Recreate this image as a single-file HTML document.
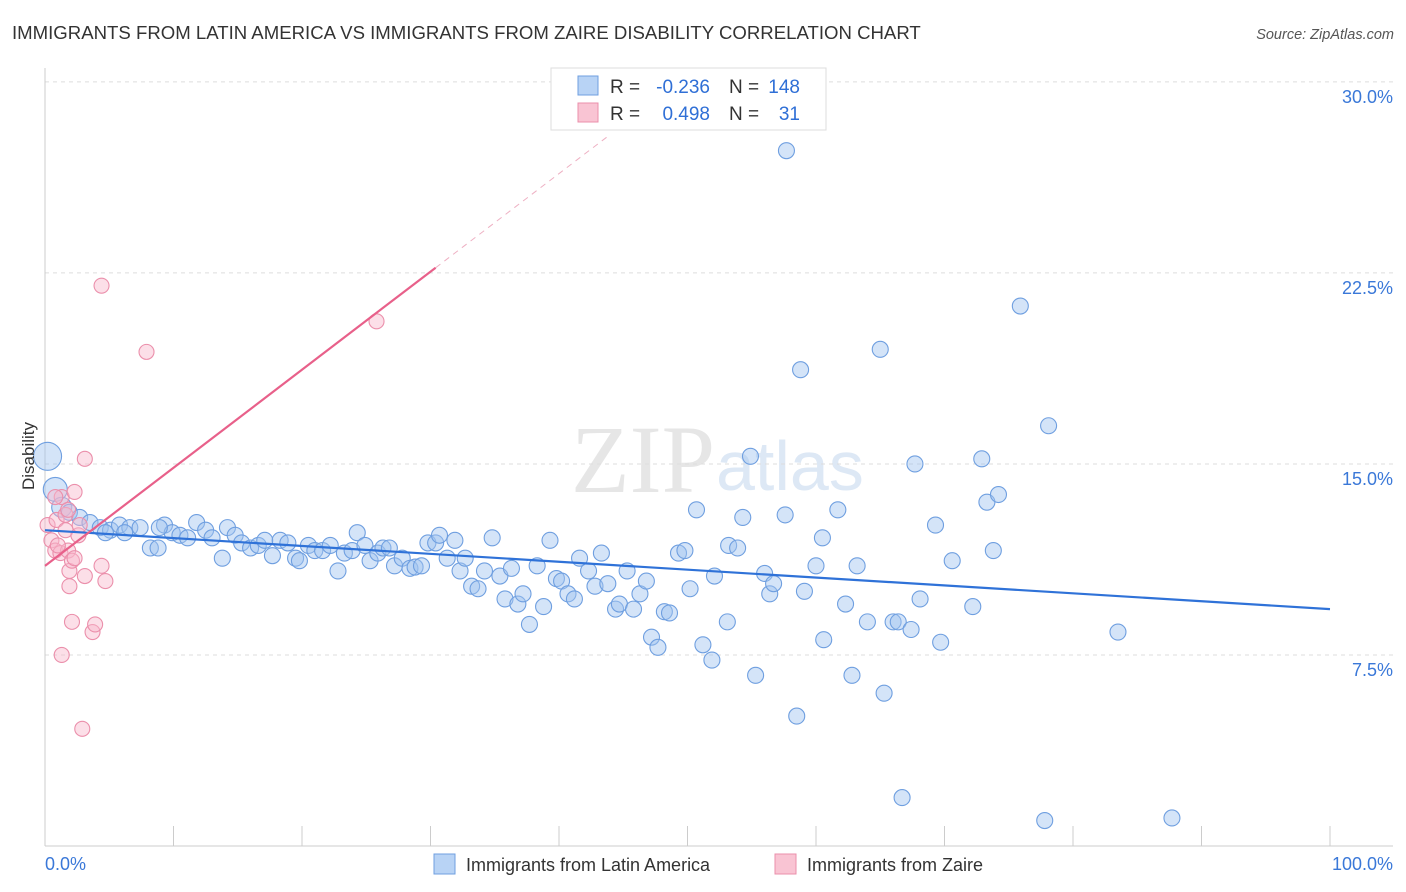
<!DOCTYPE html>
<html><head><meta charset="utf-8"><style>
body{margin:0;background:#fff;font-family:"Liberation Sans",sans-serif;}
svg{display:block}
</style></head><body>
<svg id="chart" width="1406" height="892">
<text x="12" y="39" font-size="18.6" fill="#333">IMMIGRANTS FROM LATIN AMERICA VS IMMIGRANTS FROM ZAIRE DISABILITY CORRELATION CHART</text>
<text x="1394" y="39" font-size="14.5" fill="#555" font-style="italic" text-anchor="end">Source: ZipAtlas.com</text>
<text x="715" y="492" font-size="96" fill="#e6e6e6" text-anchor="end" font-family="Liberation Serif">ZIP</text>
<text x="716" y="490" font-size="70" fill="#dde8f5">atlas</text>
<g id="grid"></g><g id="axes"></g><g id="marks"></g>
<text transform="translate(34,456) rotate(-90)" font-size="17" fill="#333" text-anchor="middle">Disability</text>
<g>
<rect x="551" y="68" width="275" height="62" fill="#fff" stroke="#ddd"/>
<rect x="578" y="76" width="20" height="19" fill="#b8d3f5" stroke="#6f9fe0"/>
<rect x="578" y="103" width="20" height="19" fill="#f9c4d3" stroke="#eb8fab"/>
<text x="610" y="93" font-size="19" fill="#333">R =</text>
<text x="710" y="93" font-size="19" fill="#2f6fd6" text-anchor="end">-0.236</text>
<text x="729" y="93" font-size="19" fill="#333">N =</text>
<text x="800" y="93" font-size="19" fill="#2f6fd6" text-anchor="end">148</text>
<text x="610" y="120" font-size="19" fill="#333">R =</text>
<text x="710" y="120" font-size="19" fill="#2f6fd6" text-anchor="end">0.498</text>
<text x="729" y="120" font-size="19" fill="#333">N =</text>
<text x="800" y="120" font-size="19" fill="#2f6fd6" text-anchor="end">31</text>
</g>
<g>
<rect x="434" y="854" width="21" height="20" fill="#b8d3f5" stroke="#6f9fe0"/>
<text x="466" y="871" font-size="18" fill="#333">Immigrants from Latin America</text>
<rect x="775" y="854" width="21" height="20" fill="#f9c4d3" stroke="#eb8fab"/>
<text x="807" y="871" font-size="18" fill="#333">Immigrants from Zaire</text>
</g>
</svg>
<script>
const yTicks=[7.5,15,22.5,30];
const yTickLabels=["7.5%","15.0%","22.5%","30.0%"];
const xTicks=[0,10,20,30,40,50,60,70,80,90,100];
const blueX=[0.2,0.8,1.3,1.9,2.7,3.5,4.3,5.1,5.8,6.6,7.4,8.2,8.8,9.3,9.9,10.5,11.1,11.8,12.5,13.0,13.8,14.2,14.8,15.3,16.0,16.6,17.1,17.7,18.3,18.9,19.5,19.8,20.5,21.0,21.6,22.2,22.8,23.3,23.9,24.3,24.9,25.3,25.9,26.3,26.8,27.2,27.8,28.4,28.8,29.3,29.8,30.4,30.7,31.3,31.9,32.3,32.7,33.2,33.7,34.2,34.8,35.4,35.8,36.3,36.8,37.2,37.7,38.3,38.8,39.3,39.8,40.2,40.7,41.2,41.6,42.3,42.8,43.3,43.8,44.4,44.7,45.3,45.8,46.3,46.8,47.2,47.7,48.2,48.6,49.3,49.8,50.2,50.7,51.2,51.9,52.1,53.1,53.2,53.9,54.3,54.9,55.3,56.0,56.4,56.7,57.6,57.7,58.5,58.8,59.1,60.0,60.5,60.6,61.7,62.3,62.8,63.2,64.0,65.0,65.3,66.0,66.4,66.7,67.4,67.7,68.1,69.3,69.7,70.6,72.2,72.9,73.3,73.8,74.2,75.9,77.8,78.1,83.5,87.7,4.7,6.2,8.9];
const blueY=[15.3,14.0,13.3,13.1,12.9,12.7,12.5,12.4,12.6,12.5,12.5,11.7,11.7,12.6,12.3,12.2,12.1,12.7,12.4,12.1,11.3,12.5,12.2,11.9,11.7,11.8,12.0,11.4,12.0,11.9,11.3,11.2,11.8,11.6,11.6,11.8,10.8,11.5,11.6,12.3,11.8,11.2,11.5,11.7,11.7,11.0,11.3,10.9,10.95,11.0,11.9,11.9,12.2,11.3,12.0,10.8,11.3,10.2,10.1,10.8,12.1,10.6,9.7,10.9,9.5,9.9,8.7,11.0,9.4,12.0,10.5,10.4,9.9,9.7,11.3,10.8,10.2,11.5,10.3,9.3,9.5,10.8,9.3,9.9,10.4,8.2,7.8,9.2,9.15,11.5,11.6,10.1,13.2,7.9,7.3,10.6,8.8,11.8,11.7,12.9,15.3,6.7,10.7,9.9,10.3,13.0,27.3,5.1,18.7,10.0,11.0,12.1,8.1,13.2,9.5,6.7,11.0,8.8,19.5,6.0,8.8,8.8,1.9,8.5,15.0,9.7,12.6,8.0,11.2,9.4,15.2,13.5,11.6,13.8,21.2,1.0,16.5,8.4,1.1,12.3,12.3,12.5];
const pinkX=[0.2,0.5,0.8,0.9,1.2,1.3,1.6,1.8,1.9,2.1,2.3,2.6,2.7,1.3,2.1,2.9,3.1,3.1,3.7,3.9,4.4,4.7,4.4,7.9,25.8,0.8,1.6,1.9,1.0,2.3,1.8];
const pinkY=[12.6,12.0,11.6,12.8,11.5,13.7,12.4,11.6,10.8,11.2,13.9,12.2,12.6,7.5,8.8,4.6,15.2,10.6,8.4,8.7,11.0,10.4,22.0,19.4,20.6,13.7,13.0,10.2,11.8,11.3,13.2];
const blueTrend=[12.4,9.3];       // value at x=0 and x=100
const pinkTrend=[11.0,0.385];     // intercept, slope per %
const NS="http://www.w3.org/2000/svg";
const X=v=>45+v*12.85, Y=v=>846-v*25.47;
function mk(t,a,p){const e=document.createElementNS(NS,t);for(const k in a)e.setAttribute(k,a[k]);p.appendChild(e);return e;}
const grid=document.getElementById('grid'),axes=document.getElementById('axes'),marks=document.getElementById('marks');
yTicks.forEach((v,i)=>{
 const l=mk('line',{x1:45,x2:1393,y1:Y(v),y2:Y(v),stroke:'#ddd','stroke-dasharray':'4,4'},grid);
 
 
 const t=mk('text',{x:1393,y:Y(v)+21,'font-size':18,fill:'#3a78d8','text-anchor':'end'},axes);
 t.textContent=yTickLabels[i];
 
 
});
const ya=mk('line',{x1:45,x2:45,y1:68,y2:846,stroke:'#ccc'},axes);


const xa=mk('line',{x1:45,x2:1393,y1:846,y2:846,stroke:'#ccc'},axes);


xTicks.forEach(v=>{const l=mk('line',{x1:X(v),x2:X(v),y1:826,y2:846,stroke:'#ccc'},axes);
 
 });
[['0.0%',45,'start'],['100.0%',1393,'end']].forEach(a=>{const t=mk('text',{x:a[1],y:870,'font-size':18,fill:'#3a78d8','text-anchor':a[2]},axes);t.textContent=a[0];
 
 });
blueX.forEach((x,i)=>{const r=i==0?14:i==1?12:i==2?10:8;
 const c=mk('circle',{cx:X(x),cy:Y(blueY[i]),r:r,fill:'rgba(160,195,240,0.45)',stroke:'#6f9fe0','stroke-width':1.1},marks);
 
 });
pinkX.forEach((x,i)=>{
 const c=mk('circle',{cx:X(x),cy:Y(pinkY[i]),r:7.5,fill:'rgba(248,185,205,0.45)',stroke:'#eb8fab','stroke-width':1.1},marks);
 
 });
const bl=mk('line',{x1:X(0),y1:Y(blueTrend[0]),x2:X(100),y2:Y(blueTrend[1]),stroke:'#2f72d8','stroke-width':2.2},marks);


const pl=mk('line',{x1:X(0),y1:Y(pinkTrend[0]),x2:X(30.4),y2:Y(pinkTrend[0]+pinkTrend[1]*30.4),stroke:'#e8608a','stroke-width':2.2},marks);


const pd=mk('line',{x1:X(30.4),y1:Y(pinkTrend[0]+pinkTrend[1]*30.4),x2:X(44),y2:Y(pinkTrend[0]+pinkTrend[1]*44),stroke:'#eeb0c3','stroke-width':1,'stroke-dasharray':'6,5'},marks);


</script>
</body></html>
